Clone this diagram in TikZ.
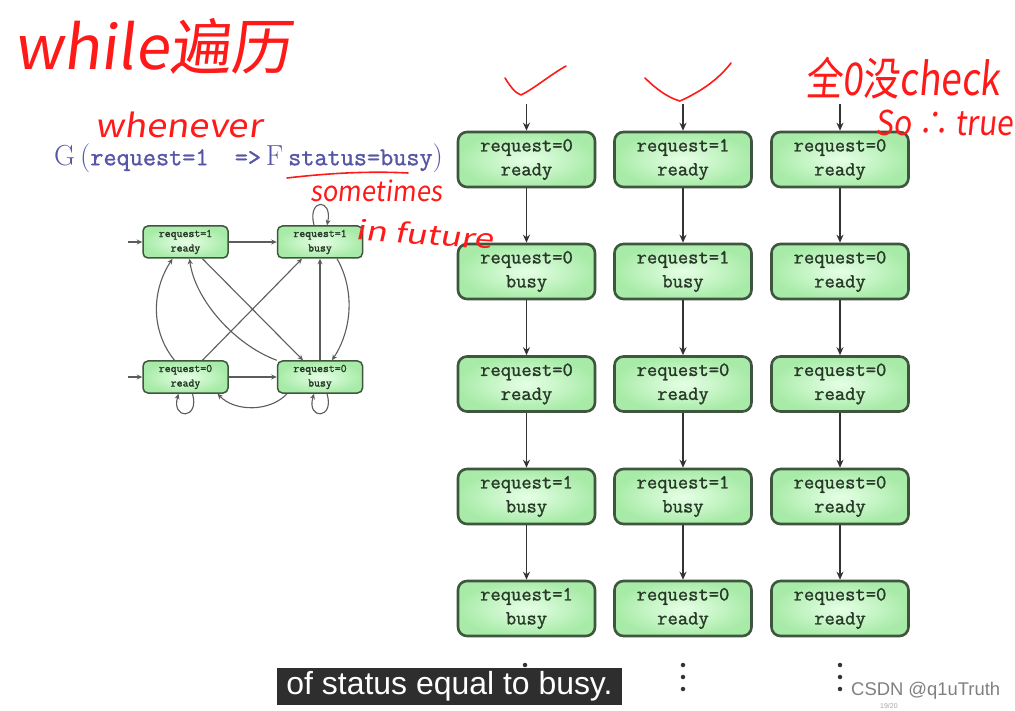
\documentclass[tikz,border=0pt]{standalone}
\usepackage{fontspec}
\usepackage{graphicx}
\usetikzlibrary{arrows.meta}
\newfontfamily\cjk{Noto Sans CJK SC}
\newfontfamily\hand[FakeSlant=0.12]{Noto Sans CJK SC}
\newfontfamily\subsans{Liberation Sans}
\newfontfamily\ttb[FakeBold=1.2]{Latin Modern Mono}
\newfontfamily\ttbb[FakeBold=1.6]{Latin Modern Mono}
\definecolor{bord}{HTML}{3E553E}
\definecolor{lgin}{HTML}{E6FFE6}
\definecolor{lgout}{HTML}{A8EBA8}
\definecolor{txt}{HTML}{283828}
\definecolor{arrc}{HTML}{333333}
\definecolor{frm}{HTML}{5656A6}
\definecolor{hred}{HTML}{FF1A1A}
\definecolor{subbg}{HTML}{2E2E2E}
\begin{document}
\begin{tikzpicture}[x=1pt,y=-1pt,
  bigst/.style={rounded corners=9pt, draw=bord, line width=2.6pt, inner color=lgin, outer color=lgout,
    minimum width=137pt, minimum height=55pt, align=center, inner sep=0pt,
    font=\fontsize{20}{24}\selectfont\ttb, text=txt},
  smallst/.style={rounded corners=5pt, draw=bord, line width=1.5pt, inner color=lgin, outer color=lgout,
    minimum width=85pt, minimum height=32pt, align=center, inner sep=0pt,
    font=\fontsize{11.5}{14.5}\selectfont\ttbb, text=txt},
  arr/.style={draw=arrc, line width=1.5pt, -{Stealth[length=8pt,width=7pt]}},
  sarr/.style={draw=arrc!80, line width=1.1pt, -{Stealth[length=5.5pt,width=5pt]}},
  redink/.style={text=hred, inner sep=0pt},
  redline/.style={draw=hred, line width=1.6pt, line cap=round, line join=round},
  dot/.style={circle, fill=arrc, inner sep=0pt, minimum size=4.5pt}
]
\useasboundingbox (0,0) rectangle (1015,711);
\fill[white] (0,0) rectangle (1015,711);

% formula
\node[anchor=west, text=frm, inner sep=0pt] (formula) at (54,158)
  {\fontsize{29}{30}\selectfont G\,(\ttb\fontsize{25.5}{30}\selectfont request=1~~=>\rmfamily\fontsize{29}{30}\selectfont\,F\,\ttb\fontsize{25.5}{30}\selectfont status=busy\rmfamily\fontsize{29}{30}\selectfont)};

% small graph
\node[smallst] (s1r) at (185.5,242) {request=1\\ready};
\node[smallst] (s1b) at (320,242) {request=1\\busy};
\node[smallst] (s0r) at (185.5,377) {request=0\\ready};
\node[smallst] (s0b) at (320,377) {request=0\\busy};
\coordinate (i1) at (128,242);
\coordinate (i0) at (128,377);
\draw[sarr] (i1) -- (s1r);
\draw[sarr] (i0) -- (s0r);
\draw[sarr] (s1r) -- (s1b);
\draw[sarr] (s0r) -- (s0b);
\draw[sarr] (s0b.north) -- (s1b.south);
\draw[sarr] ([xshift=-6pt]s1b.north) .. controls (307,198) and (333,198) .. ([xshift=7pt]s1b.north);
\draw[sarr] ([xshift=7pt]s0r.south) .. controls (200,420) and (171,420) .. ([xshift=-7pt]s0r.south);
\draw[sarr] ([xshift=7pt]s0b.south) .. controls (335,420) and (306,420) .. ([xshift=-6pt]s0b.south);
\draw[sarr] ([xshift=-11pt]s0r.north) .. controls (150,330) and (152,290) .. ([xshift=-13pt]s1r.south);
\draw[sarr] (s0b.north west) .. controls (235,345) and (195,300) .. ([xshift=4pt]s1r.south);
\draw[sarr] ([xshift=17pt]s1r.south) -- ([xshift=-17pt]s0b.north);
\draw[sarr] ([xshift=17pt]s0r.north) -- ([xshift=-18pt]s1b.south);
\draw[sarr] ([xshift=17pt]s1b.south) .. controls (355,290) and (352,330) .. ([xshift=12pt]s0b.north);
\draw[sarr] ([xshift=-33pt]s0b.south) .. controls (270,412) and (235,412) .. ([xshift=32pt]s0r.south);

% big columns
\foreach \c/\x in {1/526.5,2/683,3/840}{
  \coordinate (top\c) at (\x,104);
}
\node[bigst] (a1) at (526.5,159.5) {request=0\\ready};
\node[bigst] (a2) at (526.5,271.5) {request=0\\busy};
\node[bigst] (a3) at (526.5,384) {request=0\\ready};
\node[bigst] (a4) at (526.5,496.5) {request=1\\busy};
\node[bigst] (a5) at (526.5,608.5) {request=1\\busy};
\node[bigst] (b1) at (683,159.5) {request=1\\ready};
\node[bigst] (b2) at (683,271.5) {request=1\\busy};
\node[bigst] (b3) at (683,384) {request=0\\ready};
\node[bigst] (b4) at (683,496.5) {request=1\\busy};
\node[bigst] (b5) at (683,608.5) {request=0\\ready};
\node[bigst] (c1) at (840,159.5) {request=0\\ready};
\node[bigst] (c2) at (840,271.5) {request=0\\ready};
\node[bigst] (c3) at (840,384) {request=0\\ready};
\node[bigst] (c4) at (840,496.5) {request=0\\ready};
\node[bigst] (c5) at (840,608.5) {request=0\\ready};
\draw[arr] (top1) -- (a1);
\draw[arr] (top2) -- (b1);
\draw[arr] (top3) -- (c1);
\foreach \p in {a,b,c}{
  \draw[arr] (\p1) -- (\p2);
  \draw[arr] (\p2) -- (\p3);
  \draw[arr] (\p3) -- (\p4);
  \draw[arr] (\p4) -- (\p5);
}
\foreach \x/\n in {525/a,683/b,840/c}{
  \node[dot] (\n d1) at (\x,665) {};
  \node[dot] (\n d2) at (\x,677) {};
  \node[dot] (\n d3) at (\x,689) {};
}

% subtitle
\node[fill=subbg, minimum width=345pt, minimum height=37pt, inner sep=0pt, text=white] (subt) at (449.5,686.5)
  {\subsans\resizebox{326pt}{!}{of status equal to busy.}};
\node[anchor=west, inner sep=0pt, text=black!50] (csdn) at (851,691)
  {\subsans\resizebox{149pt}{!}{CSDN @q1uTruth}};
\node[anchor=west, inner sep=0pt, text=black!35] (pg) at (880,706) {\subsans\fontsize{7}{8}\selectfont 19/20};

% red handwriting
\node[redink, anchor=west] (h1) at (14,46) {\hand\resizebox*{278pt}{56pt}{while遍历}};
\node[redink, anchor=west] (h2) at (95,125) {\hand\resizebox*{167pt}{26pt}{whenever}};
\draw[redline] (287,178) .. controls (330,173) and (370,171) .. (408,173);
\node[redink, anchor=west] (h3) at (310,191) {\hand\resizebox*{132pt}{22pt}{sometimes}};
\node[redink, anchor=west, rotate=-4] (h4) at (356,229) {\hand\resizebox*{138pt}{22pt}{in future}};
\node[redink, anchor=west] (h5) at (805,78) {\hand\resizebox*{195pt}{42pt}{全0没check}};
\node[redink, anchor=west] (h6) at (875,123) {\hand\resizebox*{138pt}{26pt}{So ∴ true}};
\draw[redline] (505,78) .. controls (510,86) and (515,93) .. (521,95) .. controls (535,88) and (550,75) .. (566,66);
\draw[redline] (645,78) .. controls (655,88) and (668,98) .. (680,101) .. controls (700,92) and (718,80) .. (731,63);
\end{tikzpicture}
\end{document}
